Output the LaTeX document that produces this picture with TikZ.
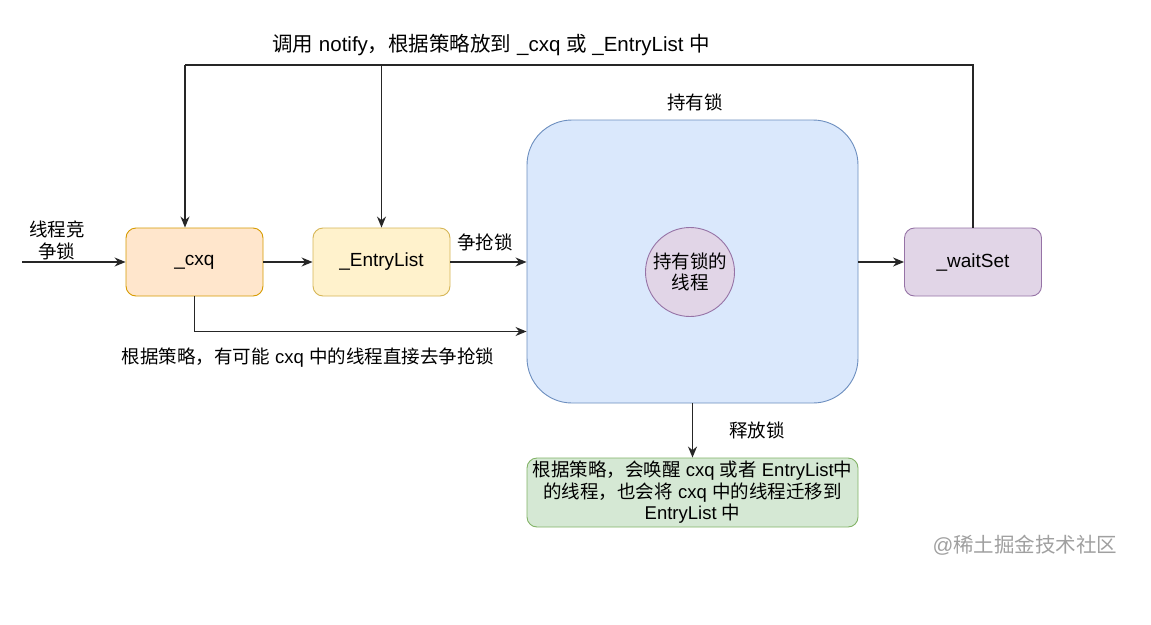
\documentclass[tikz,border=0pt]{standalone}
\usepackage{fontspec}
\setmainfont{Liberation Sans}
\newfontfamily\cjk{Noto Sans CJK SC}
\usetikzlibrary{arrows.meta,calc}
\definecolor{cxqfill}{HTML}{FFE6CC}\definecolor{cxqdraw}{HTML}{D79B00}
\definecolor{entfill}{HTML}{FFF2CC}\definecolor{entdraw}{HTML}{D6B656}
\definecolor{holdfill}{HTML}{DAE8FC}\definecolor{holddraw}{HTML}{6C8EBF}
\definecolor{purfill}{HTML}{E1D5E7}\definecolor{purdraw}{HTML}{9673A6}
\definecolor{grnfill}{HTML}{D5E8D4}\definecolor{grndraw}{HTML}{82B366}
\definecolor{wmark}{HTML}{A0A0A0}
\tikzset{
  box/.style={rectangle, rounded corners=10pt, minimum width=137pt, minimum height=68pt, line width=0.9pt, inner sep=0pt, font=\fontsize{19}{22}\selectfont},
  lbl/.style={font=\fontsize{18.5}{22}\selectfont, inner sep=0pt, align=center},
  arr/.style={draw=black!85, line width=1.3pt, -{Stealth[length=11pt,width=9pt]}},
  ln/.style={draw=black!85, line width=1.3pt},
}
\begin{document}
\begin{tikzpicture}[x=1pt,y=-1pt]
\useasboundingbox[fill=white] (0,0) rectangle (1151,624);
% nodes
\node[box, fill=cxqfill, draw=cxqdraw] (cxq) at (194.5,262) {\_cxq};
\node[box, fill=entfill, draw=entdraw] (entry) at (381.5,262) {\_EntryList};
\node[rectangle, rounded corners=45pt, minimum width=331pt, minimum height=283pt, fill=holdfill, draw=holddraw, line width=0.9pt] (hold) at (692.5,261.5) {};
\node[circle, minimum size=89pt, inner sep=0pt, fill=purfill, draw=purdraw, line width=0.9pt, align=center, font=\fontsize{18.5}{22}\selectfont] (thr) at (690,272) {{\cjk 持有锁的}\\[-1pt]{\cjk 线程}};
\node[box, fill=purfill, draw=purdraw] (ws) at (973,262) {\_waitSet};
\node[box, minimum width=331pt, minimum height=69pt, fill=grnfill, draw=grndraw, align=center, font=\fontsize{18.5}{21.5}\selectfont] (rel) at (692.5,492.5)
  {{\cjk 根据策略，会唤醒} cxq {\cjk 或者} EntryList{\cjk 中}\\{\cjk 的线程，也会将} cxq {\cjk 中的线程迁移到}\\EntryList {\cjk 中}};
% coordinates
\coordinate (in) at (22,262);
\coordinate (tl) at (185,65);
% connectors
\draw[arr] (in) -- (cxq.west);
\draw[arr] (cxq.east) -- (entry.west);
\draw[arr] (entry.east) -- (entry.east -| hold.west);
\draw[arr] (cxq.south) |- ([yshift=-70pt]hold.west);
\draw[arr] (hold.east |- ws.west) -- (ws.west);
\draw[ln] (ws.north) |- (tl);
\draw[arr] (tl) -- (tl |- cxq.north);
\draw[arr] (entry.north |- tl) -- (entry.north);
\draw[arr] (hold.south) -- (rel.north);
% labels
\node[lbl, font=\fontsize{20.5}{22}\selectfont] (tlabel) at (491,45) {{\cjk 调用} notify{\cjk ，根据策略放到} \_cxq {\cjk 或} \_EntryList {\cjk 中}};
\node[lbl] (inlabel) at (57,240) {{\cjk 线程竞}\\{\cjk 争锁}};
\node[lbl] (grab) at (485,242) {\cjk 争抢锁};
\node[lbl] (direct) at (308,358) {{\cjk 根据策略，有可能} cxq {\cjk 中的线程直接去争抢锁}};
\node[lbl] (holdlabel) at (695,102) {\cjk 持有锁};
\node[lbl] (rellabel) at (757,430) {\cjk 释放锁};
\node[lbl, text=wmark, font=\fontsize{20.5}{22}\selectfont] (wm) at (1025,545) {@{\cjk 稀土掘金技术社区}};
\end{tikzpicture}
\end{document}
